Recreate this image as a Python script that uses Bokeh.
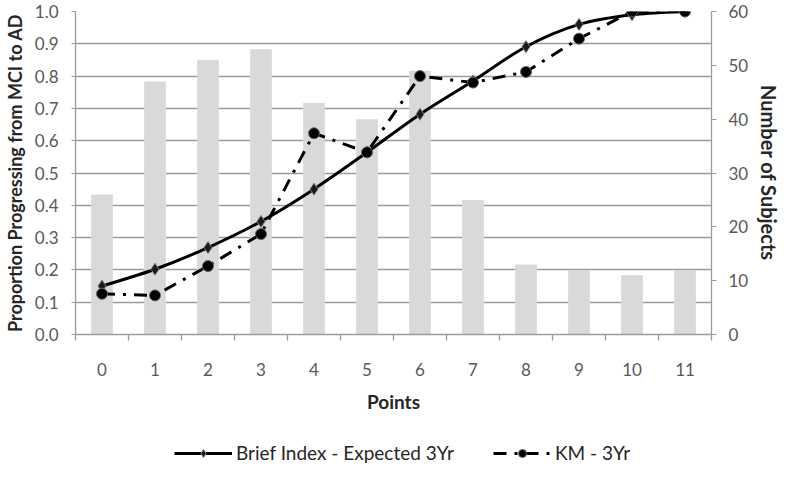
from bokeh.plotting import figure
from bokeh.layouts import column
from bokeh.models import Range1d, LinearAxis, FixedTicker, NumeralTickFormatter, Legend, LegendItem
from bokeh.embed import file_html
from bokeh.resources import INLINE

# ---- data ----
points = [0, 1, 2, 3, 4, 5, 6, 7, 8, 9, 10, 11]
subjects = [26, 47, 51, 53, 43, 40, 49, 25, 13, 12, 11, 12]
brief_index = [0.15, 0.202, 0.269, 0.35, 0.45, 0.564, 0.682, 0.785, 0.891, 0.96, 0.99, 1.0]
km_3yr = [0.126, 0.121, 0.212, 0.311, 0.623, 0.564, 0.80, 0.78, 0.813, 0.916, 1.0, 1.0]
prop_ticks = [0.0, 0.1, 0.2, 0.3, 0.4, 0.5, 0.6, 0.7, 0.8, 0.9, 1.0]
subj_ticks = [0, 10, 20, 30, 40, 50, 60]
series_names = ["Brief Index - Expected 3Yr", "KM - 3Yr"]

FONT = "Lato"
GRID = "#9c9c9c"
TICKC = "#595959"
LABC = "#262626"
KM_DASH = "13 8 3 8"

x_lo, x_hi = -0.5, 11.5
subj_lo, subj_hi = 0, 60

p = figure(width=784, height=420, x_range=Range1d(x_lo, x_hi), y_range=Range1d(0, 1),
           output_backend="svg", toolbar_location=None,
           min_border_left=72, min_border_right=69, min_border_top=11, min_border_bottom=86)
p.outline_line_color = None
p.background_fill_color = "white"
p.border_fill_color = "white"
p.extra_y_ranges = {"subj": Range1d(subj_lo, subj_hi)}

# bars (right axis)
p.vbar(x=points, top=subjects, width=0.41, y_range_name="subj",
       fill_color="#d9d9d9", line_color=None)

# smoothed Brief Index curve via cubic bezier segments (Catmull-Rom style control points)
n = len(points)
x0, y0, x1, y1, cx0, cy0, cx1, cy1 = [], [], [], [], [], [], [], []
for i in range(n - 1):
    a = max(i - 1, 0)
    d = min(i + 2, n - 1)
    x0.append(points[i]); y0.append(brief_index[i])
    x1.append(points[i + 1]); y1.append(brief_index[i + 1])
    cx0.append(points[i] + (points[i + 1] - points[a]) / 6.0)
    cy0.append(brief_index[i] + (brief_index[i + 1] - brief_index[a]) / 6.0)
    cx1.append(points[i + 1] - (points[d] - points[i]) / 6.0)
    cy1.append(brief_index[i + 1] - (brief_index[d] - brief_index[i]) / 6.0)
p.bezier(x0=x0, y0=y0, x1=x1, y1=y1, cx0=cx0, cy0=cy0, cx1=cx1, cy1=cy1,
         line_color="black", line_width=3)

p.line(points, km_3yr, line_color="black", line_width=3, line_dash=KM_DASH)
p.scatter(points, brief_index, marker="diamond", size=12,
          fill_color="#1a1a1a", line_color="#7a7a7a", line_width=1)
p.scatter(points, km_3yr, marker="circle", size=11,
          fill_color="black", line_color="#666666", line_width=1)

# grid
p.xgrid.grid_line_color = None
p.ygrid.ticker = FixedTicker(ticks=prop_ticks)
p.ygrid.grid_line_color = GRID
p.ygrid.grid_line_width = 1.3

# x axis
xa = p.xaxis[0]
xa.ticker = FixedTicker(ticks=points, minor_ticks=[v - 0.5 for v in points] + [points[-1] + 0.5])
xa.major_tick_out = 0
xa.major_tick_in = 0
xa.minor_tick_out = 6
xa.minor_tick_in = 0
xa.minor_tick_line_color = GRID
xa.minor_tick_line_width = 1.3
xa.axis_line_color = GRID
xa.axis_line_width = 1.3
xa.major_label_standoff = 22
xa.major_label_text_font = FONT
xa.major_label_text_font_size = "17px"
xa.major_label_text_color = TICKC
xa.axis_label = "Points"
xa.axis_label_text_font = FONT
xa.axis_label_text_font_style = "bold"
xa.axis_label_text_font_size = "19px"
xa.axis_label_text_color = LABC
xa.axis_label_standoff = 11

# left axis
ya = p.yaxis[0]
ya.ticker = FixedTicker(ticks=prop_ticks)
ya.formatter = NumeralTickFormatter(format="0.0")
ya.major_tick_out = 4
ya.major_tick_in = 0
ya.minor_tick_out = 0
ya.minor_tick_in = 0
ya.major_tick_line_color = GRID
ya.axis_line_color = GRID
ya.axis_line_width = 1.3
ya.major_label_standoff = 13
ya.major_label_text_font = FONT
ya.major_label_text_font_size = "17px"
ya.major_label_text_color = TICKC
ya.axis_label = "Proportion Progressing from MCI to AD"
ya.axis_label_text_font = FONT
ya.axis_label_text_font_style = "bold"
ya.axis_label_text_font_size = "18px"
ya.axis_label_text_color = LABC
ya.axis_label_standoff = 6

# right axis
ra = LinearAxis(y_range_name="subj", ticker=FixedTicker(ticks=subj_ticks),
                axis_label="Number of Subjects")
ra.major_tick_out = 5
ra.major_tick_in = 0
ra.minor_tick_out = 0
ra.minor_tick_in = 0
ra.major_tick_line_color = GRID
ra.axis_line_color = GRID
ra.axis_line_width = 1.3
ra.major_label_standoff = 12
ra.major_label_text_font = FONT
ra.major_label_text_font_size = "17px"
ra.major_label_text_color = TICKC
ra.axis_label_text_font = FONT
ra.axis_label_text_font_style = "bold"
ra.axis_label_text_font_size = "20px"
ra.axis_label_text_color = LABC
ra.axis_label_standoff = 6
p.add_layout(ra, "right")

# legend strip (separate small figure under the chart; its series sit outside its view)
lg = figure(width=784, height=44, x_range=Range1d(x_lo, x_hi), y_range=Range1d(5, 6),
            output_backend="svg", toolbar_location=None, min_border=0,
            x_axis_location=None, y_axis_location=None)
lg.grid.visible = False
lg.outline_line_color = None
l1 = lg.line(points, brief_index, line_color="black", line_width=3)
m1 = lg.scatter(points, brief_index, marker="diamond", size=12, fill_color="#1a1a1a", line_color="#7a7a7a")
l2 = lg.line(points, km_3yr, line_color="black", line_width=3, line_dash=KM_DASH)
m2 = lg.scatter(points, km_3yr, marker="circle", size=11, fill_color="black", line_color="#666666")
legend = Legend(items=[LegendItem(label=series_names[0], renderers=[l1, m1]),
                       LegendItem(label=series_names[1], renderers=[l2, m2])],
                orientation="horizontal", location=(99, 0),
                glyph_width=58, glyph_height=20, label_standoff=4, spacing=39,
                padding=0, margin=0, border_line_color=None, background_fill_alpha=0,
                label_text_font=FONT, label_text_font_size="19px", label_text_color="#262626")
lg.add_layout(legend)

open("out.html", "w").write(file_html(column(p, lg, spacing=0), INLINE))
